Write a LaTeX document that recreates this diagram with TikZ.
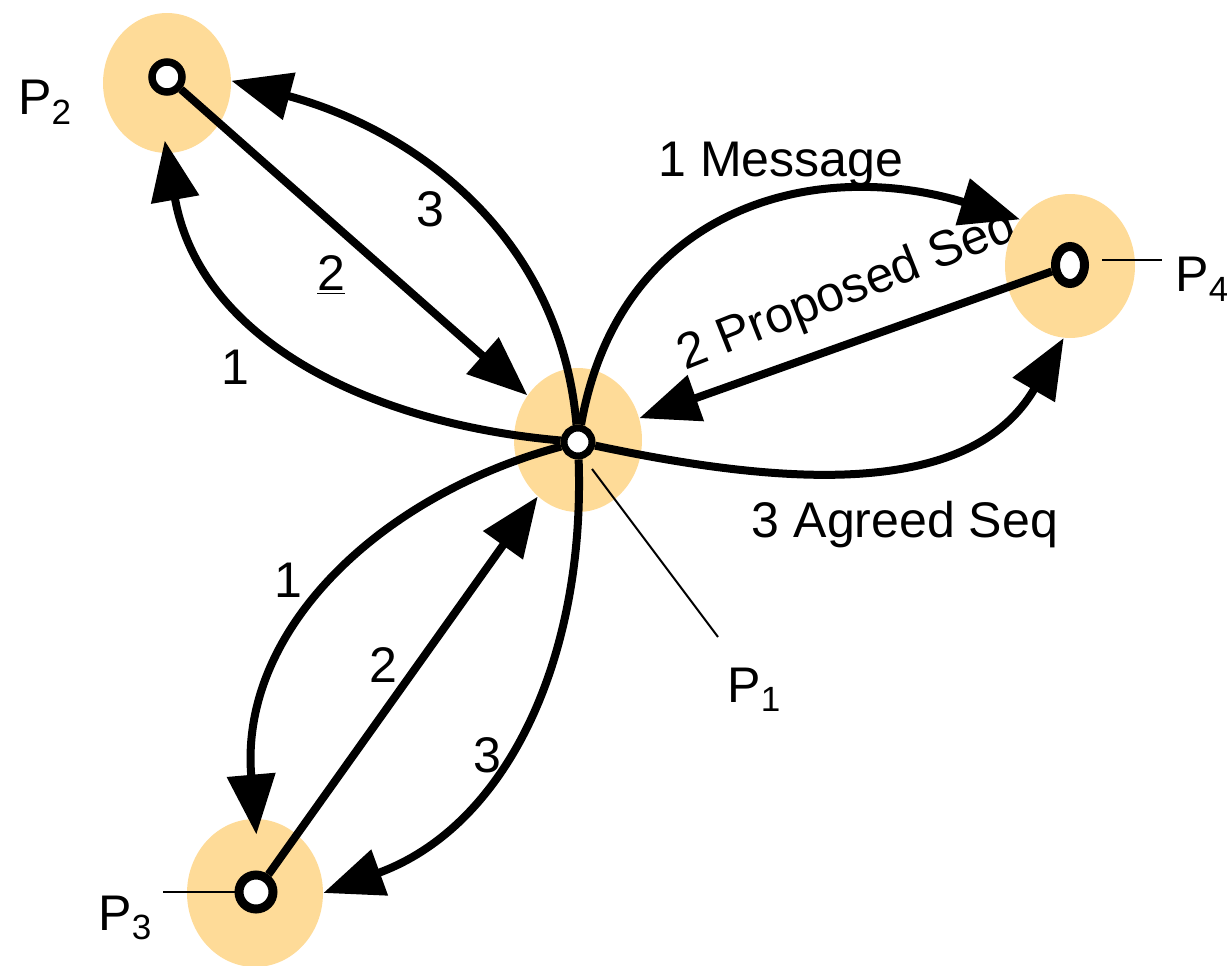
\documentclass[tikz,border=0pt]{standalone}
\usepackage{fontspec}
\setmainfont{Liberation Sans}
\usetikzlibrary{arrows.meta, shapes.geometric}
\definecolor{blob}{RGB}{254,219,152}

\begin{document}
\begin{tikzpicture}[x=0.02cm, y=0.02cm,
  site/.style = {ellipse, fill=blob, inner sep=0pt},
  ring/.style = {circle, draw, fill=white, line width=0.15cm, minimum size=0.6cm, inner sep=0pt},
  msg/.style = {line width=0.16cm, -{Triangle[length=1.2cm, width=0.94cm]}},
  lbl/.style = {font=\fontsize{28.5}{33}\selectfont, inner sep=0pt, anchor=base},
  plbl/.style = {lbl, anchor=base west},
  leader/.style = {line width=0.04cm}]
\useasboundingbox (0,0) rectangle (1227,965);

% step numbers and message names
\node[lbl] (n23) at (430,738) {3};
\node[lbl] (n22) at (331,674) {\underline{2}};
\node[lbl] (n21) at (235,581) {1};
\node[lbl] (n41) at (781,788) {1 Message};
\node[lbl, anchor=center, rotate=21.6] (n42) at (848,673) {2 Proposed Seq};
\node[lbl] (n43) at (905,428) {3 Agreed Seq};
\node[lbl] (n31) at (288,368) {1};
\node[lbl] (n32) at (383,283) {2};
\node[lbl] (n33) at (487,193) {3};

% process names
\node[plbl] (l1) at (727,263) {P\textsubscript{1}};
\node[plbl] (l2) at (18,850) {P\textsubscript{2}};
\node[plbl] (l3) at (98,35) {P\textsubscript{3}};
\node[plbl] (l4) at (1175,673) {P\textsubscript{4}};

% sites
\node[site, minimum width=2.56cm, minimum height=2.88cm] (b1) at (578,525) {};
\node[site, minimum width=2.56cm, minimum height=2.8cm] (b2) at (167,882) {};
\node[site, minimum width=2.72cm, minimum height=2.96cm] (b3) at (255,72) {};
\node[site, minimum width=2.6cm, minimum height=2.88cm] (b4) at (1070,699) {};

\node[ring, minimum size=0.56cm, line width=0.14cm] (p1) at (578,523) {};
\node[ring] (p2) at (167,888) {};
\node[ring, minimum size=0.68cm, line width=0.18cm] (p3) at (256,73) {};
\node[ring, ellipse, minimum width=0.58cm, minimum height=0.74cm, line width=0.18cm] (p4) at (1070,700) {};

\coordinate (c1a) at (592,496);
\coordinate (c1b) at (718,328);
\coordinate (c3) at (163,73);
\coordinate (c4a) at (1102,705);
\coordinate (c4b) at (1162,705);
\draw[leader] (c1a) -- (c1b);
\draw[leader] (p3) -- (c3);
\draw[leader] (c4a) -- (c4b);

% P1 <-> P2
\draw[msg] (p2) -- (b1);
\draw[msg] (p1) to[out=95, in=-15] (b2.2);
\draw[msg, shorten >=-0.26cm] (p1) to[out=175, in=-80] (b2.south);

% P1 <-> P4
\draw[msg] (p1) to[out=80, in=163, looseness=1.15] (b4.137);
\draw[msg] (p4) -- (b1);
\draw[msg] (p1) to[out=-12, in=240] (b4.265);

% P1 <-> P3
\draw[msg, shorten >=-0.32cm] (p1) to[out=195, in=95] (b3.north);
\draw[msg] (p3) -- (b1);
\draw[msg] (p1) to[out=-88, in=20] (b3.east);
\end{tikzpicture}
\end{document}
